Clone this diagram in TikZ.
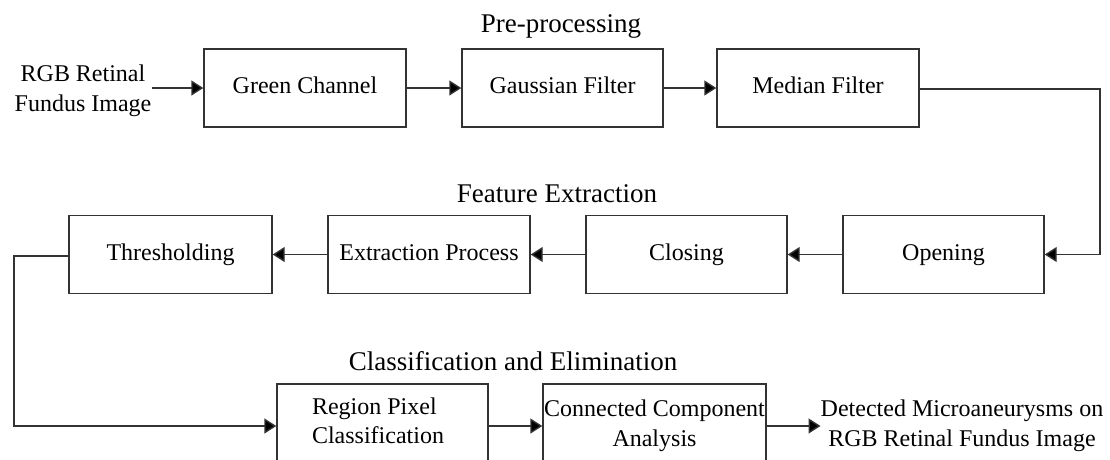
\documentclass[tikz,border=0pt]{standalone}
\usepackage{fontspec}
\setmainfont{Liberation Serif}
\usetikzlibrary{arrows.meta}
\begin{document}
\begin{tikzpicture}[x=1pt,y=-1pt,
  box/.style={draw=black!80, line width=1.4pt, minimum width=202pt, minimum height=78pt,
    inner sep=0pt, font=\fontsize{24}{29.5}\selectfont, align=center,
    text height=16pt, text depth=5pt},
  bigbox/.style={draw=black!80, line width=1.4pt, minimum height=84pt, inner sep=0pt},
  lbl/.style={font=\fontsize{27}{32}\selectfont, inner sep=0pt},
  txt/.style={font=\fontsize{24}{29.5}\selectfont, align=center, inner sep=0pt},
  conn/.style={draw=black!80, line width=1.4pt, -{Triangle[length=12pt,width=15pt,fill=black]}}]
\clip (0,0) rectangle (1110,459);
\fill[white] (0,0) rectangle (1110,459);

% labels
\node[lbl, anchor=base] (pre) at (561,32) {Pre-processing};
\node[lbl, anchor=base] (feat) at (557,202) {Feature Extraction};
\node[lbl, anchor=base] (clas) at (513,370) {Classification and Elimination};

% row 1
\node[txt] (input) at (83,91) {RGB Retinal\\Fundus Image};
\node[box] (green) at (305,88) {Green Channel};
\node[box, minimum width=201pt] (gauss) at (562.5,88) {Gaussian Filter};
\node[box] (median) at (818,88) {Median Filter};

% row 2
\node[box, minimum width=203pt] (thresh) at (170.5,254.5) {Thresholding};
\node[box] (extract) at (429,254.5) {Extraction Process};
\node[box, minimum width=201pt] (closing) at (686.5,254.5) {Closing};
\node[box, minimum width=201pt] (opening) at (943.5,254.5) {Opening};

% row 3
\node[bigbox, minimum width=211pt] (region) at (382.5,426) {};
\node[txt, align=left] (regiontext) at (378,421) {Region Pixel\\Classification};
\node[bigbox, minimum width=223pt, font=\fontsize{24}{29.5}\selectfont, align=center] (cca) at (654.5,426) {Connected Component\\Analysis};
\node[txt] (output) at (962,426) {Detected Microaneurysms on\\RGB Retinal Fundus Image};

% turning points
\coordinate (turnA) at (1100,89);
\coordinate (turnB) at (14,256);

% connectors
\draw[conn] (input.east |- green.west) -- (green.west);
\draw[conn] (green) -- (gauss);
\draw[conn] (gauss) -- (median);
\draw[conn] (median.east |- turnA) -- (turnA) |- (opening.east);
\draw[conn] (opening) -- (closing);
\draw[conn] (closing) -- (extract);
\draw[conn] (extract) -- (thresh);
\draw[conn] (thresh.west |- turnB) -- (turnB) |- (region.west);
\draw[conn] (region) -- (cca);
\draw[conn] (cca.east) -- (output.west);
\end{tikzpicture}
\end{document}
